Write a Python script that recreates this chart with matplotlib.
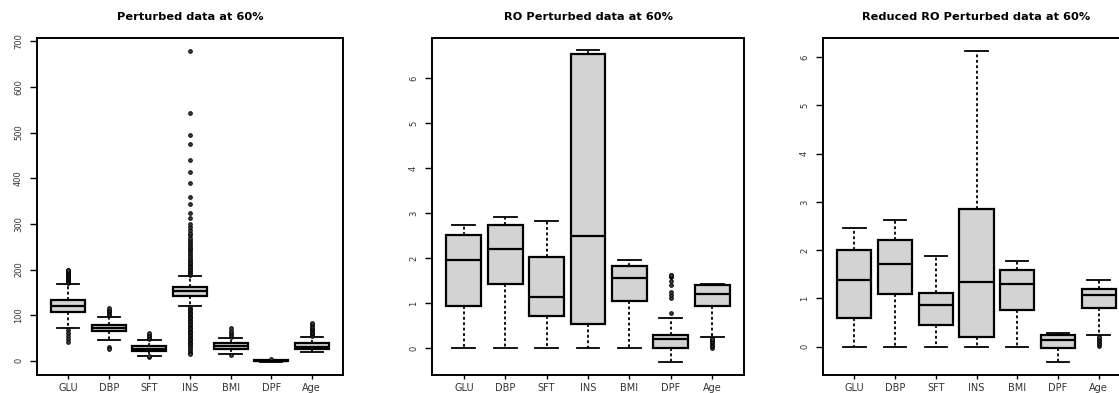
"""
Три панели boxplot: исходные возмущённые данные, RO и reduced RO (60%).
Статистики ящиков сняты с картинки, рисуются через Axes.bxp.
"""

import matplotlib

matplotlib.use("Agg")
import matplotlib.pyplot as plt

VARS = ["GLU", "DBP", "SFT", "INS", "BMI", "DPF", "Age"]

# --- панель 1: Perturbed data at 60% ---
P1_WHISLO = [73, 45, 10, 120, 15, -1.5, 20]
P1_Q1 = [107, 65, 22, 142, 26, -0.3, 25]
P1_MED = [120, 71, 27, 153, 32, 0.4, 31]
P1_Q3 = [133, 78, 33, 161, 38, 1.0, 38]
P1_WHISHI = [168, 96, 45, 185, 49, 2.5, 53]
P1_FLIERS = [
    [170, 172, 174, 176, 178, 180, 182, 184, 186, 188, 190, 192, 194, 196, 198, 199,
     67, 62, 55, 48, 42],
    [100, 103, 106, 109, 112, 115, 30, 27],
    [48, 51, 54, 57, 60, 8, 10],
    [187, 190, 193, 196, 199, 202, 205, 208, 211, 214, 217, 220, 224, 228, 232, 236,
     240, 244, 248, 252, 256, 260, 265, 270, 275, 279, 286, 293, 300, 312, 324, 343,
     359, 390, 414, 439, 474, 494, 542, 679,
     117, 114, 111, 108, 105, 102, 99, 96, 93, 90, 87, 84, 81, 78, 75, 72, 69, 66,
     63, 60, 57, 54, 51, 48, 45, 42, 39, 36, 33, 30, 27, 22, 18, 16],
    [52, 56, 60, 65, 71, 12],
    [3.0],
    [55, 58, 61, 64, 67, 70, 73, 76, 80, 83],
]

# --- панель 2: RO Perturbed data at 60% ---
P2_WHISLO = [0.0, 0.0, 0.0, 0.0, 0.0, -0.30, 0.26]
P2_Q1 = [0.94, 1.42, 0.72, 0.54, 1.05, 0.0, 0.94]
P2_MED = [1.96, 2.20, 1.15, 2.50, 1.56, 0.22, 1.21]
P2_Q3 = [2.52, 2.74, 2.04, 6.54, 1.83, 0.30, 1.41]
P2_WHISHI = [2.74, 2.91, 2.83, 6.63, 1.96, 0.67, 1.43]
P2_FLIERS = [
    [], [], [], [], [],
    [0.78, 1.12, 1.18, 1.26, 1.40, 1.50, 1.58, 1.60, 1.62, 1.63],
    [0.02, 0.05, 0.08, 0.11, 0.14, 0.17, 0.20, 0.22],
]

# --- панель 3: Reduced RO Perturbed data at 60% ---
P3_WHISLO = [0.0, 0.0, 0.0, 0.0, 0.0, -0.31, 0.24]
P3_Q1 = [0.59, 1.09, 0.45, 0.19, 0.76, -0.02, 0.79]
P3_MED = [1.38, 1.71, 0.86, 1.33, 1.30, 0.14, 1.07]
P3_Q3 = [2.00, 2.21, 1.12, 2.86, 1.59, 0.24, 1.19]
P3_WHISHI = [2.45, 2.62, 1.88, 6.14, 1.77, 0.29, 1.38]
P3_FLIERS = [
    [], [], [], [], [], [],
    [0.02, 0.05, 0.08, 0.11, 0.14, 0.17, 0.20],
]

P1_TICKS = [0, 100, 200, 300, 400, 500, 600, 700]
P23_TICKS = [0, 1, 2, 3, 4, 5, 6]

TITLES = [
    "Perturbed data at 60%",
    "RO Perturbed data at 60%",
    "Reduced RO Perturbed data at 60%",
]

W, H = 1119, 393


def make_stats(whislo, q1, med, q3, whishi, fliers):
    return [
        {"label": v, "whislo": a, "q1": b, "med": c, "q3": d, "whishi": e, "fliers": f}
        for v, a, b, c, d, e, f in zip(VARS, whislo, q1, med, q3, whishi, fliers)
    ]


def draw_panel(ax, stats, title, ticks, ylim):
    ax.bxp(
        stats,
        widths=0.84,
        patch_artist=True,
        boxprops=dict(facecolor="#d3d3d3", edgecolor="black", linewidth=1.6),
        medianprops=dict(color="black", linewidth=1.6),
        whiskerprops=dict(color="black", linewidth=1.3, linestyle=(0, (1.6, 1.4))),
        capprops=dict(color="black", linewidth=1.3),
        capwidths=0.55,
        flierprops=dict(marker="o", markersize=2.6, markerfacecolor="#444444",
                        markeredgecolor="black", markeredgewidth=0.7),
    )
    ax.set_xlim(0.23, 7.77)
    ax.set_ylim(*ylim)
    ax.set_yticks(ticks)
    ax.set_yticklabels([str(t) for t in ticks], rotation=90, va="center", fontsize=6)
    ax.tick_params(axis="x", labelsize=7, length=3, width=1.0, pad=3, labelcolor="#333333")
    ax.tick_params(axis="y", length=5, width=1.0, pad=5, labelcolor="#333333")
    for s in ax.spines.values():
        s.set_linewidth(1.4)
    ax.set_title(title, fontsize=8.2, fontweight="bold", pad=13)


def main():
    fig = plt.figure(figsize=(W / 100, H / 100), dpi=100)
    plt.rcParams["font.family"] = ["DejaVu Sans"]

    boxes = [(37, 343), (432, 744), (823, 1130)]
    top, bottom = 38, 375
    axes = [
        fig.add_axes([l / W, (H - bottom) / H, (r - l) / W, (bottom - top) / H])
        for l, r in boxes
    ]

    draw_panel(axes[0], make_stats(P1_WHISLO, P1_Q1, P1_MED, P1_Q3, P1_WHISHI, P1_FLIERS),
               TITLES[0], P1_TICKS, (-31, 707))
    draw_panel(axes[1], make_stats(P2_WHISLO, P2_Q1, P2_MED, P2_Q3, P2_WHISHI, P2_FLIERS),
               TITLES[1], P23_TICKS, (-0.59, 6.89))
    draw_panel(axes[2], make_stats(P3_WHISLO, P3_Q1, P3_MED, P3_Q3, P3_WHISHI, P3_FLIERS),
               TITLES[2], P23_TICKS, (-0.59, 6.40))

    fig.savefig("out.png", dpi=100)


if __name__ == "__main__":
    main()
